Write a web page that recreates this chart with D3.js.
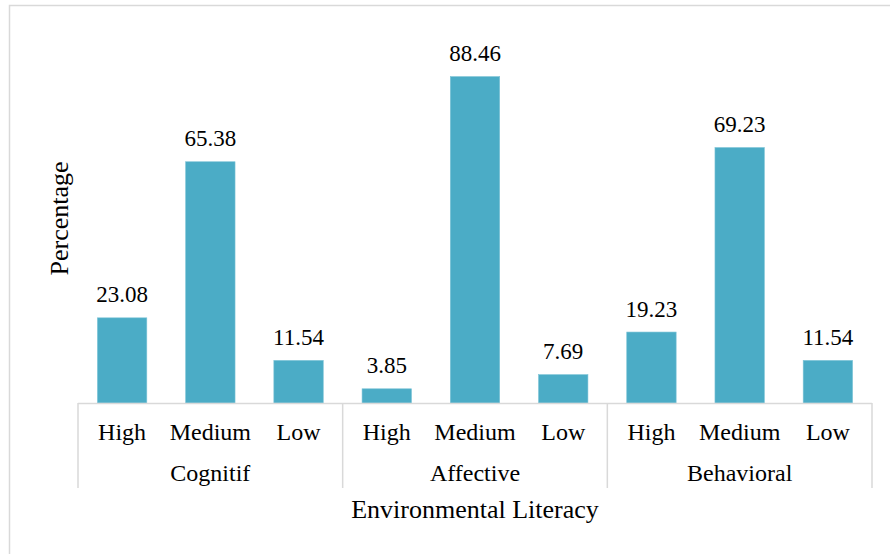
<!DOCTYPE html>
<html>
<head>
<meta charset="utf-8">
<script src="https://cdn.jsdelivr.net/npm/d3@7"></script>
<style>
  html, body { margin: 0; padding: 0; background: #fff; }
</style>
</head>
<body>
<svg id="chart" width="890" height="554" font-family="Liberation Serif, DejaVu Serif, Times New Roman, serif"></svg>
<script>
// Environmental literacy levels per domain (percent)
const groups = ["Cognitif", "Affective", "Behavioral"];
const levels = ["High", "Medium", "Low"];
const cognitif = [23.08, 65.38, 11.54];
const affective = [3.85, 88.46, 7.69];
const behavioral = [19.23, 69.23, 11.54];
const yTitle = "Percentage";
const xTitle = "Environmental Literacy";

const seriesByGroup = [cognitif, affective, behavioral];
const rows = [];
groups.forEach((g, gi) => {
  levels.forEach((l, li) => {
    rows.push({ key: g + "|" + l, group: g, level: l, value: seriesByGroup[gi][li] });
  });
});

const svg = d3.select("#chart");
const W = 890, H = 554;
const plot = { left: 78, right: 872, top: 34, bottom: 403 };
const gridColor = "#d9d9d9";
const barColor = "#4bacc6";
const serif = "'Liberation Serif', 'DejaVu Serif', 'Times New Roman', serif";

// Outer chart frame
svg.append("rect")
  .attr("x", 9.5).attr("y", 5.5)
  .attr("width", W + 20).attr("height", H + 20)
  .attr("fill", "none").attr("stroke", gridColor).attr("stroke-width", 1.5);

const x = d3.scaleBand()
  .domain(rows.map(d => d.key))
  .range([plot.left, plot.right])
  .paddingInner(0.44)
  .paddingOuter(0.22);

const y = d3.scaleLinear().domain([0, 100]).range([plot.bottom, plot.top]);

// Bars
svg.append("g").selectAll("rect")
  .data(rows)
  .join("rect")
  .attr("x", d => x(d.key))
  .attr("y", d => y(d.value))
  .attr("width", x.bandwidth())
  .attr("height", d => y(0) - y(d.value))
  .attr("fill", barColor)
  .attr("stroke", "#7cc3d6")
  .attr("stroke-width", 0.6);

// Value labels
svg.append("g").selectAll("text")
  .data(rows)
  .join("text")
  .attr("x", d => x(d.key) + x.bandwidth() / 2)
  .attr("y", d => y(d.value) - 15.5)
  .attr("text-anchor", "middle")
  .style("font-family", serif)
  .attr("font-size", 23)
  .text(d => d.value.toFixed(2));

// Category axis line
svg.append("line")
  .attr("x1", plot.left).attr("x2", plot.right)
  .attr("y1", plot.bottom + 0.5).attr("y2", plot.bottom + 0.5)
  .attr("stroke", gridColor).attr("stroke-width", 1.5);

// Group separators (multi-level axis ticks)
const step = x.step();
const groupEdges = d3.range(groups.length + 1).map(i => plot.left + i * levels.length * step);
svg.append("g").selectAll("line")
  .data(groupEdges)
  .join("line")
  .attr("x1", d => d).attr("x2", d => d)
  .attr("y1", plot.bottom).attr("y2", 488)
  .attr("stroke", gridColor).attr("stroke-width", 1.5);

// Level labels
svg.append("g").selectAll("text")
  .data(rows)
  .join("text")
  .attr("x", d => x(d.key) + x.bandwidth() / 2)
  .attr("y", 440)
  .attr("text-anchor", "middle")
  .style("font-family", serif)
  .attr("font-size", 24)
  .text(d => d.level);

// Group labels
svg.append("g").selectAll("text")
  .data(groups)
  .join("text")
  .attr("x", (d, i) => (groupEdges[i] + groupEdges[i + 1]) / 2)
  .attr("y", 481)
  .attr("text-anchor", "middle")
  .style("font-family", serif)
  .attr("font-size", 24)
  .text(d => d);

// Axis titles
svg.append("text")
  .attr("x", (plot.left + plot.right) / 2)
  .attr("y", 518)
  .attr("text-anchor", "middle")
  .style("font-family", serif)
  .attr("font-size", 26)
  .text(xTitle);

svg.append("text")
  .attr("transform", "translate(67.5,218.5) rotate(-90)")
  .attr("text-anchor", "middle")
  .style("font-family", serif)
  .attr("font-size", 26)
  .text(yTitle);
</script>
</body>
</html>
